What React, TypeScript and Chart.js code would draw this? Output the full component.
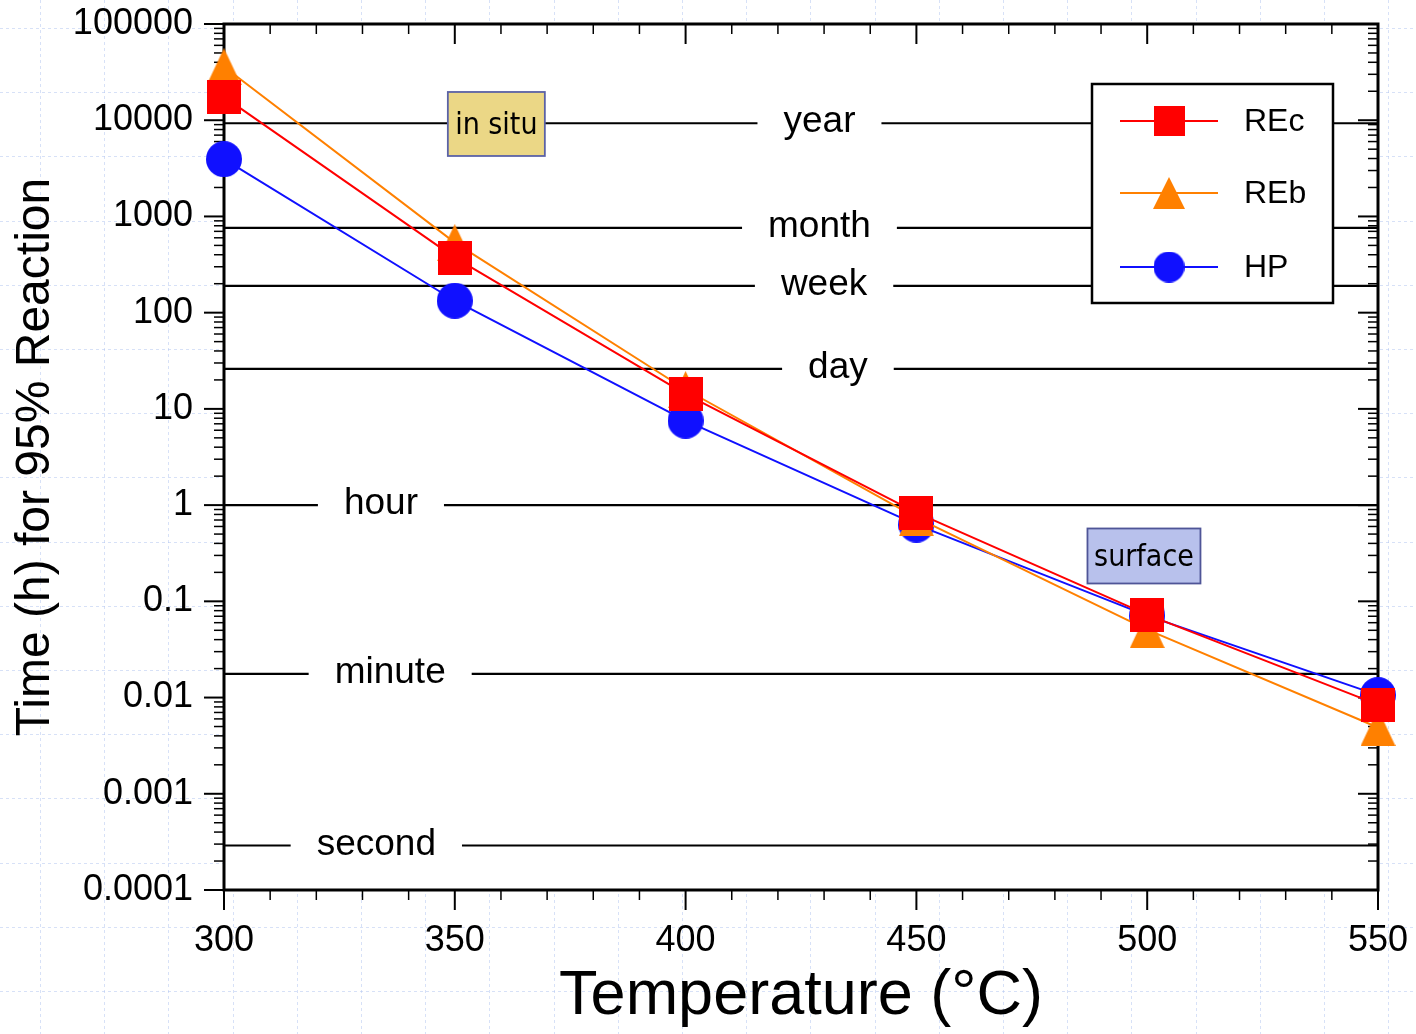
import React, { useEffect, useRef } from 'react';
import { Chart, registerables } from 'chart.js';

Chart.register(...registerables);

// ---------- data ----------
const temperaturesC = [300, 350, 400, 450, 500, 550];
const seriesNames = ['REc', 'REb', 'HP'];
const recHours = [17500, 373, 14.2, 0.836, 0.0728, 0.00845];
const rebHours = [36000, 534, 15.9, 0.741, 0.0508, 0.00488];
const hpHours = [3940, 133, 7.55, 0.627, 0.0711, 0.0106];

const xTickValues = [300, 350, 400, 450, 500, 550];
const xTickLabels = ['300', '350', '400', '450', '500', '550'];
const xMinorStep = 10;
const yTickValues = [0.0001, 0.001, 0.01, 0.1, 1, 10, 100, 1000, 10000, 100000];
const yTickLabels = ['0.0001', '0.001', '0.01', '0.1', '1', '10', '100', '1000', '10000', '100000'];

const refLabels = ['year', 'month', 'week', 'day', 'hour', 'minute', 'second'];
const refHours = [9300, 760, 190, 26, 1, 0.0176, 0.00029];
const refLabelAtC = [429, 429, 430, 433, 334, 336, 333];

const boxLabels = ['in situ', 'surface'];
const boxAtC = [359, 499.3];
const boxAtHours = [9140, 0.296];

// ---------- styles ----------
const SANS = "'Liberation Sans', Arial, Helvetica, sans-serif";
const BOX_FONT = "'DejaVu Sans Condensed', 'DejaVu Sans', sans-serif";
const SERIES_STYLE = [
  { color: '#ff0000', shape: 'rect', w: 34, h: 34, lw: 31, lh: 30 },
  { color: '#ff8000', shape: 'triangle', w: 35, h: 37, lw: 32, lh: 32 },
  { color: '#1010ff', shape: 'circle', w: 36, h: 36, lw: 31, lh: 31 },
];
const BOX_STYLE = [
  { w: 97, h: 64, fill: '#ebd786', stroke: '#5b62a6' },
  { w: 113, h: 55, fill: '#b8c1ec', stroke: '#4f5597' },
];

function makeMarker(shape: string, w: number, h: number, color: string): HTMLCanvasElement {
  const c = document.createElement('canvas');
  c.width = w;
  c.height = h;
  const g = c.getContext('2d') as CanvasRenderingContext2D;
  g.fillStyle = color;
  g.beginPath();
  if (shape === 'rect') g.rect(0, 0, w, h);
  else if (shape === 'circle') g.arc(w / 2, h / 2, Math.min(w, h) / 2, 0, Math.PI * 2);
  else {
    g.moveTo(w / 2, 0);
    g.lineTo(w, h);
    g.lineTo(0, h);
    g.closePath();
  }
  g.fill();
  return c;
}

const backgroundPlugin = {
  id: 'pageBackground',
  beforeDraw(chart: any) {
    const { ctx, width, height, chartArea } = chart;
    ctx.save();
    ctx.fillStyle = '#ffffff';
    ctx.fillRect(0, 0, width, height);
    ctx.strokeStyle = 'rgba(175, 195, 240, 0.5)';
    ctx.lineWidth = 1;
    ctx.setLineDash([3, 3]);
    const step = 64.2;
    for (let gx = 40; gx < width; gx += step) {
      ctx.beginPath();
      ctx.moveTo(Math.round(gx) + 0.5, 0);
      ctx.lineTo(Math.round(gx) + 0.5, height);
      ctx.stroke();
    }
    for (let gy = 28; gy < height; gy += step) {
      ctx.beginPath();
      ctx.moveTo(0, Math.round(gy) + 0.5);
      ctx.lineTo(width, Math.round(gy) + 0.5);
      ctx.stroke();
    }
    ctx.setLineDash([]);
    ctx.fillStyle = '#ffffff';
    ctx.fillRect(chartArea.left, chartArea.top, chartArea.right - chartArea.left, chartArea.bottom - chartArea.top);
    ctx.restore();
  },
};

const framePlugin = {
  id: 'frameAndRefs',
  beforeDatasetsDraw(chart: any) {
    const { ctx, chartArea } = chart;
    const { left, right, top, bottom } = chartArea;
    const xs = chart.scales.x;
    const ys = chart.scales.y;
    ctx.save();
    ctx.strokeStyle = '#000';

    // reference lines with labels
    ctx.font = `37px ${SANS}`;
    ctx.fillStyle = '#000';
    ctx.textAlign = 'center';
    ctx.textBaseline = 'alphabetic';
    ctx.lineWidth = 2.2;
    refLabels.forEach((lab, i) => {
      const py = ys.getPixelForValue(refHours[i]);
      const cx = xs.getPixelForValue(refLabelAtC[i]);
      const w = ctx.measureText(lab).width;
      const g0 = cx - w / 2 - 26;
      const g1 = cx + w / 2 + 26;
      ctx.beginPath();
      ctx.moveTo(left, py);
      ctx.lineTo(g0, py);
      ctx.moveTo(g1, py);
      ctx.lineTo(right, py);
      ctx.stroke();
      ctx.fillText(lab, cx, py + 9);
    });

    // annotation boxes
    boxLabels.forEach((lab, i) => {
      const st = BOX_STYLE[i];
      const cx = xs.getPixelForValue(boxAtC[i]);
      const cy = ys.getPixelForValue(boxAtHours[i]);
      ctx.fillStyle = st.fill;
      ctx.fillRect(cx - st.w / 2, cy - st.h / 2, st.w, st.h);
      ctx.strokeStyle = st.stroke;
      ctx.lineWidth = 1.8;
      ctx.strokeRect(cx - st.w / 2, cy - st.h / 2, st.w, st.h);
      ctx.fillStyle = '#000';
      ctx.font = `30px ${BOX_FONT}`;
      ctx.textAlign = 'center';
      ctx.fillText(lab, cx, cy + 10.5);
    });

    // ticks
    ctx.strokeStyle = '#000';
    const tick = (x1: number, y1: number, x2: number, y2: number, lw: number) => {
      ctx.lineWidth = lw;
      ctx.beginPath();
      ctx.moveTo(x1, y1);
      ctx.lineTo(x2, y2);
      ctx.stroke();
    };
    for (let t = xTickValues[0]; t <= xTickValues[xTickValues.length - 1] + 0.001; t += xMinorStep) {
      const px = xs.getPixelForValue(t);
      const major = xTickValues.indexOf(t) >= 0;
      const len = major ? 20 : 10;
      tick(px, bottom, px, bottom + len, major ? 2 : 1.5);
      tick(px, top, px, top + len, major ? 2 : 1.5);
    }
    yTickValues.forEach((d, i) => {
      const py = ys.getPixelForValue(d);
      tick(left - 20, py, left, py, 2);
      tick(right - 20, py, right, py, 2);
      if (i < yTickValues.length - 1) {
        for (let m = 2; m <= 9; m++) {
          const pm = ys.getPixelForValue(d * m);
          tick(left - 10, pm, left, pm, 1.5);
          tick(right - 10, pm, right, pm, 1.5);
        }
      }
    });

    // frame
    ctx.lineWidth = 3;
    ctx.strokeRect(left, top, right - left, bottom - top);
    ctx.restore();
  },
};

const legendPlugin = {
  id: 'boxLegend',
  afterDatasetsDraw(chart: any) {
    const { ctx, chartArea } = chart;
    const bx = chartArea.right - 286;
    const by = chartArea.top + 60;
    const bw = 241;
    const bh = 219;
    ctx.save();
    ctx.fillStyle = '#fff';
    ctx.fillRect(bx, by, bw, bh);
    ctx.strokeStyle = '#000';
    ctx.lineWidth = 2.5;
    ctx.strokeRect(bx, by, bw, bh);
    const rows = [37, 109, 183];
    chart.data.datasets.forEach((ds: any, i: number) => {
      const st = SERIES_STYLE[i];
      const ry = by + rows[i];
      ctx.strokeStyle = st.color;
      ctx.lineWidth = 2;
      ctx.beginPath();
      ctx.moveTo(bx + 28, ry);
      ctx.lineTo(bx + 126, ry);
      ctx.stroke();
      const mk = makeMarker(st.shape, st.lw, st.lh, st.color);
      ctx.drawImage(mk, bx + 77 - st.lw / 2, ry - st.lh / 2);
      ctx.fillStyle = '#000';
      ctx.font = `32px ${SANS}`;
      ctx.textAlign = 'left';
      ctx.textBaseline = 'middle';
      ctx.fillText(ds.label, bx + 152, ry + 1);
    });
    ctx.restore();
  },
};

export default function App() {
  const ref = useRef<HTMLCanvasElement>(null);

  useEffect(() => {
    document.body.style.margin = '0';
    const canvas = ref.current as HTMLCanvasElement;
    const seriesValues = [recHours, rebHours, hpHours];
    const datasets = seriesNames.map((name, i) => {
      const st = SERIES_STYLE[i];
      return {
        label: name,
        data: temperaturesC.map((t, k) => ({ x: t, y: seriesValues[i][k] })),
        borderColor: st.color,
        backgroundColor: st.color,
        borderWidth: 2,
        pointStyle: makeMarker(st.shape, st.w, st.h, st.color),
        pointRadius: 18,
        pointHoverRadius: 18,
        tension: 0,
        clip: false as any,
      };
    });

    const chart = new Chart(canvas, {
      type: 'line',
      data: { datasets } as any,
      options: {
        animation: false,
        responsive: false,
        devicePixelRatio: 1,
        events: [],
        layout: { padding: { left: 0, top: 24, right: 38, bottom: 0 } },
        plugins: { legend: { display: false }, tooltip: { enabled: false } },
        scales: {
          x: {
            type: 'linear',
            min: 300,
            max: 550,
            afterBuildTicks: (s: any) => {
              s.ticks = xTickValues.map((v) => ({ value: v }));
            },
            afterFit: (s: any) => {
              s.height = 144;
              s.paddingLeft = 0;
              s.paddingRight = 0;
              s.paddingTop = 0;
              s.paddingBottom = 0;
            },
            grid: { display: false, drawTicks: false },
            border: { display: false },
            ticks: {
              padding: 29,
              color: '#000',
              autoSkip: false,
              maxRotation: 0,
              font: { family: SANS, size: 36 },
              callback: (_v: any, i: number) => xTickLabels[i],
            },
            title: {
              display: true,
              text: 'Temperature (°C)',
              color: '#000',
              font: { family: SANS, size: 63 },
              padding: { top: 0, bottom: 0 },
            },
          },
          y: {
            type: 'logarithmic',
            min: 0.0001,
            max: 100000,
            afterBuildTicks: (s: any) => {
              s.ticks = yTickValues.map((v) => ({ value: v }));
            },
            afterFit: (s: any) => {
              s.width = 224;
              s.paddingLeft = 0;
              s.paddingRight = 0;
              s.paddingTop = 0;
              s.paddingBottom = 0;
            },
            grid: { display: false, drawTicks: false },
            border: { display: false },
            ticks: {
              padding: 31,
              color: '#000',
              autoSkip: false,
              font: { family: SANS, size: 36 },
              callback: (_v: any, i: number) => yTickLabels[i],
            },
            title: {
              display: true,
              text: 'Time (h) for 95% Reaction',
              color: '#000',
              font: { family: SANS, size: 48 },
              padding: { top: 7, bottom: 0 },
            },
          },
        },
      } as any,
      plugins: [backgroundPlugin, framePlugin, legendPlugin],
    });
    return () => chart.destroy();
  }, []);

  return (
    <div style={{ width: 1416, height: 1034, position: 'relative' }}>
      <canvas ref={ref} width={1416} height={1034} style={{ display: 'block', width: 1416, height: 1034 }} />
    </div>
  );
}
